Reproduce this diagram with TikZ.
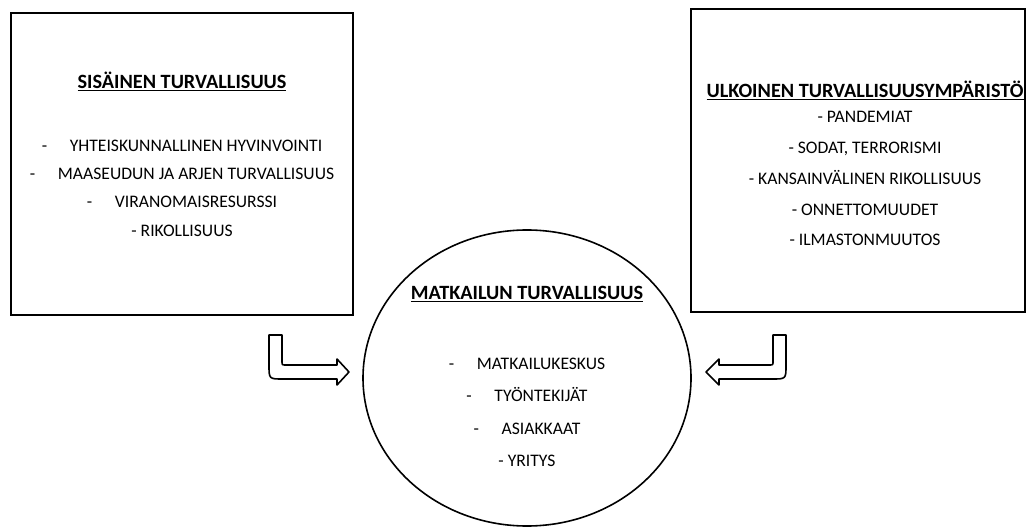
\documentclass[tikz,border=0pt]{standalone}
\usepackage{fontspec}
\setmainfont{Carlito}
\tikzset{
	otsikko/.style={font=\fontsize{15.2}{17}\selectfont\bfseries, anchor=base, inner sep=0pt},
	kohta/.style={font=\fontsize{13.2}{15}\selectfont, anchor=base, inner sep=0pt},
	kehys/.style={line width=1.5pt},
	nuoli/.style={line width=1.2pt, line join=round},
}
\newcommand{\viiva}{-\hspace{17pt}}
\begin{document}
\begin{tikzpicture}[x=0.75pt,y=-0.75pt]
	\useasboundingbox (0,0) rectangle (1027,527);
	% laatikot ja ympyra
	\draw [kehys] (11,13) rectangle (353,315);
	\draw [kehys] (691,9) rectangle (1025,312);
	\draw [line width=1.2pt] (527,378) ellipse (123pt and 111pt);
	% sisainen turvallisuus
	\node [otsikko] (sis) at (182,88.5) {\underline{SISÄINEN TURVALLISUUS}};
	\node [kohta] (sis1) at (182,152) {\viiva YHTEISKUNNALLINEN HYVINVOINTI};
	\node [kohta] (sis2) at (182,180) {\viiva MAASEUDUN JA ARJEN TURVALLISUUS};
	\node [kohta] (sis3) at (182,208) {\viiva VIRANOMAISRESURSSI};
	\node [kohta] (sis4) at (182,237) {- RIKOLLISUUS};
	% ulkoinen turvallisuusymparisto
	\node [otsikko] (ulk) at (865,97.5) {\underline{ULKOINEN TURVALLISUUSYMPÄRISTÖ}};
	\node [kohta] (ulk1) at (865,123) {- PANDEMIAT};
	\node [kohta] (ulk2) at (865,154) {- SODAT, TERRORISMI};
	\node [kohta] (ulk3) at (865,185) {- KANSAINVÄLINEN RIKOLLISUUS};
	\node [kohta] (ulk4) at (865,216) {- ONNETTOMUUDET};
	\node [kohta] (ulk5) at (865,246) {- ILMASTONMUUTOS};
	% matkailun turvallisuus
	\node [otsikko] (mat) at (527,299.5) {\underline{MATKAILUN TURVALLISUUS}};
	\node [kohta] (mat1) at (527,369) {\viiva MATKAILUKESKUS};
	\node [kohta] (mat2) at (527,401) {\viiva TYÖNTEKIJÄT};
	\node [kohta] (mat3) at (527,434) {\viiva ASIAKKAAT};
	\node [kohta] (mat4) at (527,466) {- YRITYS};
	% nuolet
	\draw [nuoli] (269,335) -- (282,335) -- (282,361) .. controls (282,365) .. (286,365) -- (337,365) -- (337,359) -- (349,372) -- (337,385) -- (337,379) -- (283,379) .. controls (269,379) .. (269,365) -- cycle;
	\draw [nuoli] (786,335) -- (773,335) -- (773,361) .. controls (773,365) .. (769,365) -- (719,365) -- (719,359) -- (706,372) -- (719,385) -- (719,379) -- (772,379) .. controls (786,379) .. (786,365) -- cycle;
\end{tikzpicture}
\end{document}
